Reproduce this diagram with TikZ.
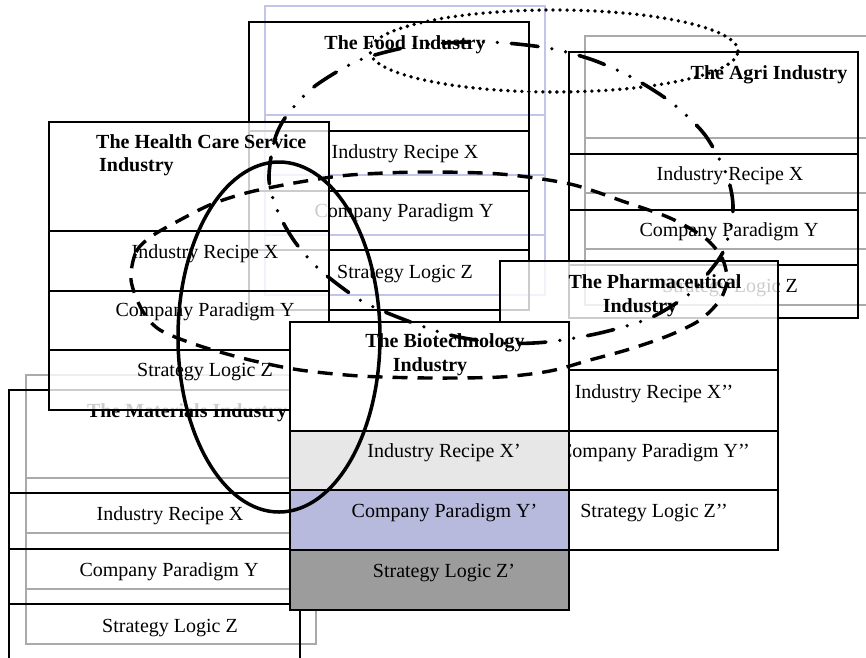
\documentclass[tikz,border=0pt]{standalone}
\usepackage{fontspec}
\setmainfont{Liberation Serif}
\definecolor{lavline}{HTML}{C2C4E8}
\definecolor{lavfill}{HTML}{B7B9DD}
\definecolor{grayline}{HTML}{AAAAAA}
\definecolor{lightfill}{HTML}{E7E7E7}
\definecolor{darkfill}{HTML}{9C9C9C}
\begin{document}
\begin{tikzpicture}[x=1pt,y=-1pt,
  blk/.style={draw=black,line width=2.2pt},
  lav/.style={draw=lavline,line width=2pt},
  gry/.style={draw=grayline,line width=2pt},
  txt/.style={font=\fontsize{20}{23}\selectfont,inner sep=0pt,anchor=base},
  hdr/.style={font=\bfseries\fontsize{20}{23}\selectfont,inner sep=0pt,anchor=base},
  veil/.style={fill=white,fill opacity=0.8},
  solidloop/.style={line width=3.5pt},
  dotloop/.style={line width=3.8pt,line cap=round,dash pattern=on 0pt off 7pt},
  dashloop/.style={line width=3.4pt,dash pattern=on 15pt off 10pt},
  dashdotloop/.style={line width=3.6pt,line cap=round,dash pattern=on 27pt off 14pt on 0pt off 14pt on 0pt off 14pt}]
\useasboundingbox (0,0) rectangle (866,657);
\clip (0,0) rectangle (866,657);
\fill[white] (0,0) rectangle (866,657);

% ---------- Food ----------
\draw[lav] (265,6) rectangle (545,295);
\foreach \y in {115,175,235} \draw[lav] (265,\y) -- (545,\y);
\draw[blk] (249,22) rectangle (529,310);
\foreach \y in {131,191,250} \draw[blk] (249,\y) -- (529,\y);
\node[hdr] (foodh) at (405,49.5) {The Food Industry};
\node[txt] (foodx) at (405,158.5) {Industry Recipe X};
\node[txt] (foody) at (404,217.5) {Company Paradigm Y};
\node[txt] (foodz) at (405,278.5) {Strategy Logic Z};

% ---------- Agri ----------
\draw[gry] (585,36) rectangle (890,305);
\foreach \y in {138,193,249} \draw[gry] (585,\y) -- (890,\y);
\draw[blk] (569,52) rectangle (858,318);
\foreach \y in {154,210,265} \draw[blk] (569,\y) -- (858,\y);
\node[hdr] (agrih) at (769,79.5) {The Agri Industry};
\node[txt] (agrix) at (730,180.5) {Industry Recipe X};
\node[txt] (agriy) at (729,236.5) {Company Paradigm Y};
\node[txt] (agriz) at (730,292) {Strategy Logic Z};

% ---------- Materials ----------
\draw[gry] (26,375) rectangle (316,644);
\foreach \y in {478,533,589} \draw[gry] (26,\y) -- (316,\y);
\draw[blk] (9,390) rectangle (300,690);
\foreach \y in {493,549,604} \draw[blk] (9,\y) -- (300,\y);
\node[hdr] (math) at (187,417.5) {The Materials Industry};
\node[txt] (matx) at (170,520) {Industry Recipe X};
\node[txt] (maty) at (169,576) {Company Paradigm Y};
\node[txt] (matz) at (170,632) {Strategy Logic Z};

% ---------- Health Care ----------
\fill[veil] (49,122) rectangle (329,410);
\draw[blk] (49,122) rectangle (329,410);
\foreach \y in {231,291,350} \draw[blk] (49,\y) -- (329,\y);
\node[hdr,anchor=base west] (healh1) at (96,148) {The Health Care Service};
\node[hdr,anchor=base west] (healh2) at (99,171.5) {Industry};
\node[txt] (healx) at (205,258.5) {Industry Recipe X};
\node[txt] (healy) at (205,316.5) {Company Paradigm Y};
\node[txt] (healz) at (205,376.5) {Strategy Logic Z};

% ---------- Pharmaceutical ----------
\fill[veil] (500,261) rectangle (778,550);
\draw[blk] (500,261) rectangle (778,550);
\foreach \y in {370,431,490} \draw[blk] (500,\y) -- (778,\y);
\node[hdr] (phah1) at (655,288.5) {The Pharmaceutical};
\node[hdr] (phah2) at (640,312) {Industry};
\node[txt] (phax) at (654,398.5) {Industry Recipe X’’};
\node[txt] (phay) at (654.5,457.5) {Company Paradigm Y’’};
\node[txt] (phaz) at (654,517) {Strategy Logic Z’’};

% ---------- Biotechnology ----------
\fill[white] (290,322) rectangle (569,431);
\fill[lightfill] (290,431) rectangle (569,490);
\fill[lavfill] (290,490) rectangle (569,550);
\fill[darkfill] (290,550) rectangle (569,610);
\draw[blk] (290,322) rectangle (569,610);
\foreach \y in {431,490,550} \draw[blk] (290,\y) -- (569,\y);
\node[hdr] (bioh1) at (445,347.5) {The Biotechnology};
\node[hdr] (bioh2) at (430,371) {Industry};
\node[txt] (biox) at (444,457.5) {Industry Recipe X’};
\node[txt] (bioy) at (444.5,517) {Company Paradigm Y’};
\node[txt] (bioz) at (444,577) {Strategy Logic Z’};

% ---------- grouping loops ----------
\draw[dotloop] (554,51) ellipse [x radius=184pt,y radius=41pt];
\draw[solidloop] (279,337) ellipse [x radius=101pt,y radius=175pt];
\draw[dashloop] plot[smooth cycle] coordinates {
  (131,280) (136,252) (152,236) (180,220) (212,204) (250,192) (300,182)
  (350,175) (420,172) (500,174) (570,184) (625,202) (670,218) (705,238)
  (722,258) (727,280) (720,300) (700,320) (670,335) (630,349) (590,360)
  (550,371) (500,377) (430,378) (360,376) (300,370) (250,360) (200,346)
  (160,330) (142,310)};
\draw[dashdotloop] plot[smooth cycle] coordinates {
  (269,180) (274,142) (285,118) (310,90) (340,70) (368,57) (420,45)
  (488,42) (548,48) (593,60) (633,78) (672,103) (705,135) (727,176)
  (733,210) (724,250) (705,277) (688,295) (650,318) (600,333) (547,342)
  (500,343) (450,335) (400,318) (360,300) (320,270) (295,242) (278,212)};
\end{tikzpicture}
\end{document}
